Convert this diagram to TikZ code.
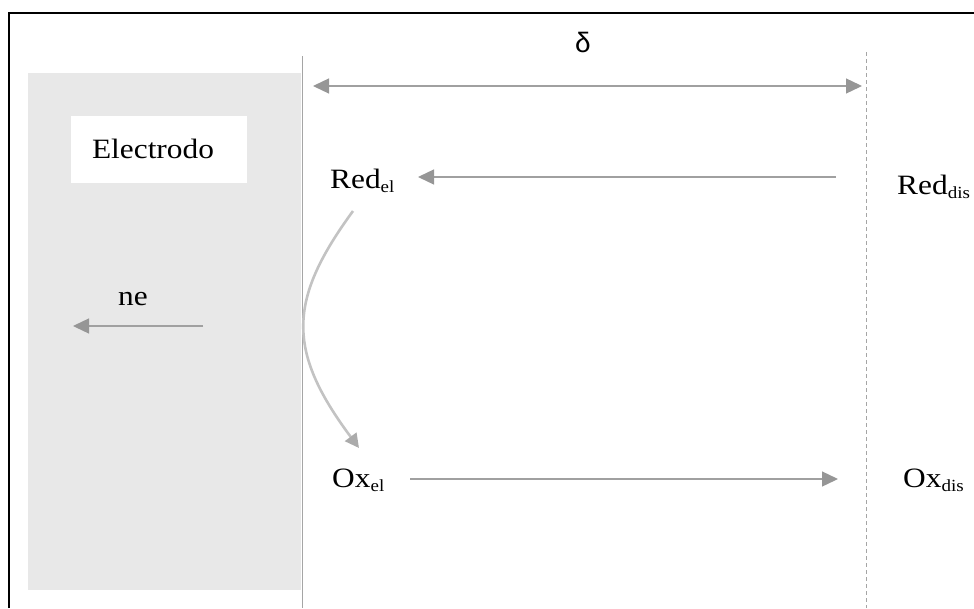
\documentclass[tikz,border=0pt]{standalone}
\usepackage{fontspec}
\setmainfont{Liberation Serif}
\newfontfamily\deltafont{Liberation Sans}
\usetikzlibrary{arrows.meta}
\definecolor{elgray}{RGB}{232,232,232}
\definecolor{arrgray}{RGB}{160,160,160}
\definecolor{headgray}{RGB}{150,150,150}
\definecolor{curvegray}{RGB}{195,195,195}
\definecolor{linegray}{RGB}{165,165,165}
\newcommand\subsc[1]{\raisebox{-4pt}{\fontsize{17}{17}\selectfont #1}}
\tikzset{
  lbl/.style={font=\fontsize{28}{30}\selectfont, inner sep=0pt, anchor=base west, xscale=1.12},
  arr/.style={draw=arrgray, line width=1.3pt, -{Triangle[length=16pt,width=15pt,color=headgray]}},
  darr/.style={draw=arrgray, line width=1.3pt, {Triangle[length=16pt,width=15pt,color=headgray]}-{Triangle[length=16pt,width=15pt,color=headgray]}},
  carr/.style={draw=curvegray, line width=2.6pt, -{Triangle[length=14pt,width=14pt,color=headgray!80]}},
}
\begin{document}
\begin{tikzpicture}[x=1pt,y=-1pt]
\useasboundingbox (0,0) rectangle (974,608);
% frame
\draw[line width=2.6pt] (9,608) -- (9,13) -- (980,13);
% electrode area
\fill[elgray] (28,73) rectangle (301,590);
\node[fill=white, minimum width=176pt, minimum height=67pt, inner sep=0pt] (elbox) at (159,149.5) {};
\node[lbl, anchor=base] (electrodo) at (153,158) {Electrodo};
% boundary lines
\draw[linegray, line width=1.2pt] (302.5,56) coordinate (sTop) -- (302.5,608) coordinate (sBot);
\draw[linegray, line width=1.2pt, dash pattern=on 4pt off 3pt] (866.5,52) coordinate (dTop) -- (866.5,608) coordinate (dBot);
% delta
\node[font=\deltafont\fontsize{28}{30}\selectfont, inner sep=0pt, anchor=base] (delta) at (583,52) {δ};
\coordinate (dl) at (313,86);
\coordinate (dr) at (862,86);
\draw[darr] (dl) -- (dr);
% species
\node[lbl] (redel) at (330,188) {Red\subsc{el}};
\node[lbl] (reddis) at (897,194) {Red\subsc{dis}};
\node[lbl] (oxel) at (332,487) {Ox\subsc{el}};
\node[lbl] (oxdis) at (903,487) {Ox\subsc{dis}};
\node[lbl] (ne) at (118,305) {ne};
% arrows
\coordinate (redS) at (836,177);
\coordinate (redE) at (418,177);
\draw[arr] (redS) -- (redE);
\coordinate (oxS) at (410,479);
\coordinate (oxE) at (838,479);
\draw[arr] (oxS) -- (oxE);
\coordinate (neS) at (203,326);
\coordinate (neE) at (73,326);
\draw[arr] (neS) -- (neE);
\coordinate (cS) at (353,211);
\coordinate (cE) at (359,448);
\draw[carr] (cS) .. controls (288,300) and (286,350) .. (cE);
\end{tikzpicture}
\end{document}
